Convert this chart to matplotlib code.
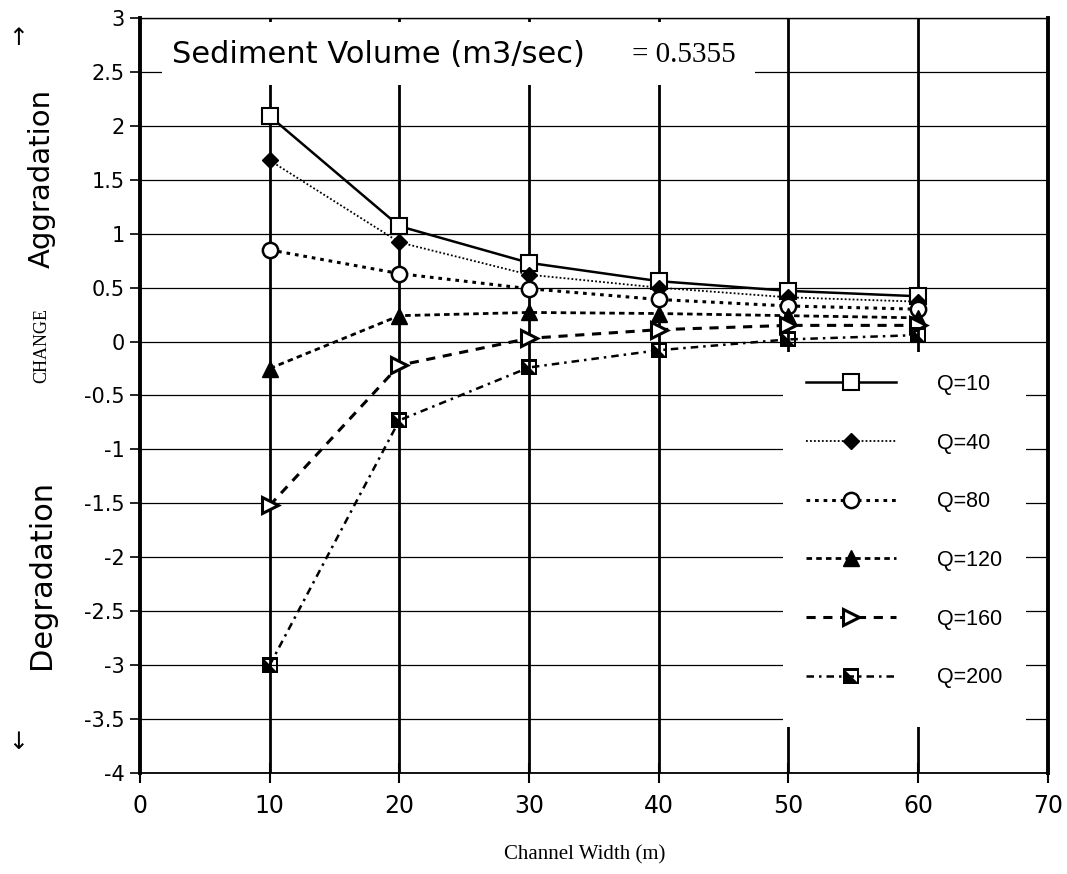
import matplotlib
matplotlib.use('Agg')
import matplotlib.pyplot as plt
import numpy as np
from matplotlib.path import Path
from matplotlib.patches import Rectangle

#############################################################################
# Data #
widths = [10, 20, 30, 40, 50, 60]
q10 = [2.09, 1.07, 0.73, 0.56, 0.47, 0.42]
q40 = [1.68, 0.92, 0.62, 0.50, 0.41, 0.37]
q80 = [0.85, 0.63, 0.49, 0.39, 0.33, 0.30]
q120 = [-0.25, 0.24, 0.27, 0.26, 0.24, 0.22]
q160 = [-1.52, -0.22, 0.03, 0.11, 0.15, 0.15]
q200 = [-3.0, -0.73, -0.24, -0.08, 0.02, 0.06]
labels = ['Q=10', 'Q=40', 'Q=80', 'Q=120', 'Q=160', 'Q=200']
sediment_volume = 0.5355

x_ticks = np.arange(0, 71, 10)
y_ticks = np.arange(-4, 3.01, 0.5)
y_ticklabels = ['-4', '-3.5', '-3', '-2.5', '-2', '-1.5', '-1', '-0.5',
                '0', '0.5', '1', '1.5', '2', '2.5', '3']


#############################################################################
# Half filled square marker (square ring + lower-left triangle) #
def half_square():
    outer = Path([(-1, -1), (1, -1), (1, 1), (-1, 1), (-1, -1)], closed=True)
    t = 0.72
    inner = Path([(-t, -t), (-t, t), (t, t), (t, -t), (-t, -t)], closed=True)
    tri = Path([(-t, t), (-t, -t), (t, -t), (-t, t)], closed=True)
    return Path.make_compound_path(outer, inner, tri)


#############################################################################
# Plotting #
fig = plt.figure(figsize=(10.67, 8.74), dpi=100)
ax = fig.add_axes([0.1312, 0.1156, 0.8508, 0.8638])

ax.set_xlim(0, 70)
ax.set_ylim(-4, 3)

# grid: thin horizontals, heavy verticals
for y in y_ticks:
    ax.axhline(y, color='black', lw=0.9, zorder=0.5)
for x in x_ticks[1:-1]:
    ax.axvline(x, color='black', lw=2.0, zorder=0.5)

# white boxes behind title and legend
ax.add_patch(Rectangle((1.7, 2.38), 45.7, 0.58, facecolor='white', edgecolor='none', zorder=1))
ax.add_patch(Rectangle((49.6, -3.57), 18.7, 3.47, facecolor='white', edgecolor='none', zorder=1))

ms = 11
ax.plot(widths, q10, color='black', lw=1.8, ls='-', marker='s', ms=ms,
        mfc='white', mec='black', mew=1.5, label=labels[0], zorder=3)
ax.plot(widths, q40, color='black', lw=1.3, ls=(0, (1, 1.2)), marker='D', ms=8,
        mfc='black', mec='black', label=labels[1], zorder=3)
ax.plot(widths, q80, color='black', lw=2.2, ls=(0, (1.2, 1.6)), marker='o', ms=ms,
        mfc='white', mec='black', mew=1.8, label=labels[2], zorder=3)
ax.plot(widths, q120, color='black', lw=2.0, ls=(0, (2, 1.5)), marker='^', ms=ms,
        mfc='black', mec='black', label=labels[3], zorder=3)
ax.plot(widths, q160, color='black', lw=2.2, ls=(0, (3, 2.5)), marker='>', ms=ms,
        mfc='white', mec='black', mew=2.2, label=labels[4], zorder=3)
ax.plot(widths, q200, color='black', lw=1.8, ls=(0, (3, 2, 1, 2)), marker=half_square(),
        ms=ms, mfc='black', mec='black', mew=0, label=labels[5], zorder=3)

leg = ax.legend(loc='upper left', bbox_to_anchor=(50.5, -0.2), bbox_transform=ax.transData,
                frameon=False, prop={'family': 'Liberation Sans', 'size': 15.5},
                handlelength=4.2, handletextpad=1.9, labelspacing=1.75, borderpad=0)
leg.set_zorder(5)

# axis styling
ax.set_xticks(x_ticks)
ax.set_xticklabels([str(v) for v in x_ticks], family=['Liberation Sans Narrow', 'DejaVu Sans'], fontsize=17)
ax.set_yticks(y_ticks)
ax.set_yticklabels(y_ticklabels, family='DejaVu Sans', fontsize=15)
ax.tick_params(axis='x', direction='inout', length=14, width=1.5, pad=8)
ax.tick_params(axis='y', direction='out', length=7, width=1.2, pad=4)

ax.spines['left'].set_linewidth(2.8)
ax.spines['right'].set_linewidth(2.8)
ax.spines['top'].set_linewidth(1.0)
ax.spines['top'].set_linestyle((0, (8, 1)))
ax.spines['bottom'].set_linewidth(1.3)

# title inside plot
ax.text(2.5, 2.66, 'Sediment Volume (m3/sec)', family='DejaVu Sans', fontsize=22,
        ha='left', va='center', zorder=4)
ax.text(37.9, 2.66, f'= {sediment_volume}', family='Liberation Serif', fontsize=21,
        ha='left', va='center', zorder=4)

# outer labels
fig.text(0.039, 0.796, 'Aggradation', rotation=90, family='DejaVu Sans', fontsize=21,
         ha='center', va='center')
fig.text(0.039, 0.605, 'CHANGE', rotation=90, family='Liberation Serif', fontsize=13,
         ha='center', va='center')
fig.text(0.039, 0.343, 'Degradation', rotation=90, family='DejaVu Sans', fontsize=22,
         ha='center', va='center')
fig.text(0.017, 0.957, '\u2191', family='DejaVu Sans', fontsize=17, ha='center', va='center')
fig.text(0.017, 0.151, '\u2193', family='DejaVu Sans', fontsize=17, ha='center', va='center')
fig.text(0.548, 0.022, 'Channel Width (m)', family='Liberation Serif', fontsize=15,
         ha='center', va='center')

fig.savefig('out.png', dpi=100, facecolor='white')
